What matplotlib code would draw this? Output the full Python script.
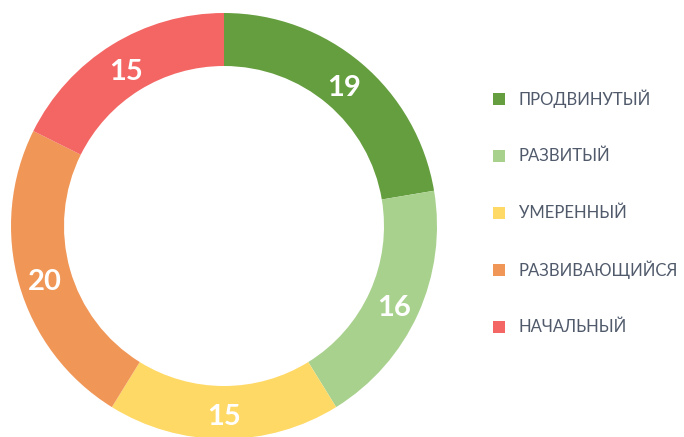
import matplotlib
matplotlib.use("Agg")
import matplotlib.pyplot as plt
from matplotlib.patches import Rectangle
import numpy as np

plt.rcParams['font.family'] = ['Lato', 'DejaVu Sans']

categories = ["ПРОДВИНУТЫЙ", "РАЗВИТЫЙ", "УМЕРЕННЫЙ", "РАЗВИВАЮЩИЙСЯ", "НАЧАЛЬНЫЙ"]
values = [19, 16, 15, 20, 15]
colors = ["#659E3F", "#A9D18E", "#FFD966", "#F09657", "#F46664"]

W, H = 684, 437
fig = plt.figure(figsize=(W / 100, H / 100), dpi=100)

# donut: center (224, 226) px, outer radius 213 px
cx, cy, r = 224, 226, 213
ax = fig.add_axes([(cx - r) / W, (H - cy - r) / H, 2 * r / W, 2 * r / H])
ring = 53 / r
wedges, _ = ax.pie(values, colors=colors, startangle=90, counterclock=False,
                   radius=1, wedgeprops=dict(width=ring, edgecolor='none'))
ax.set_xlim(-1, 1)
ax.set_ylim(-1, 1)
ax.set_aspect('equal')
ax.axis('off')

total = sum(values)
start = 90.0
mid_r = 1 - ring / 2
for v in values:
    ang = np.deg2rad(start - v / total * 360 / 2)
    ax.annotate(str(v), (mid_r * np.cos(ang), mid_r * np.sin(ang)),
                xytext=(0, -3.5), textcoords='offset points',
                ha='center', va='center', color='white', fontsize=21, fontweight='bold')
    start -= v / total * 360

# legend
sq = 12
for i, (lab, col) in enumerate(zip(categories, colors)):
    y = 99 + i * 57
    fig.patches.append(Rectangle(((499 - sq / 2) / W, (H - y - sq / 2) / H), sq / W, sq / H,
                                 transform=fig.transFigure, facecolor=col, edgecolor='none'))
    fig.text(519 / W, (H - y) / H, lab, ha='left', va='center', color='#505A6B', fontsize=12)

fig.savefig("out.png", dpi=100)
